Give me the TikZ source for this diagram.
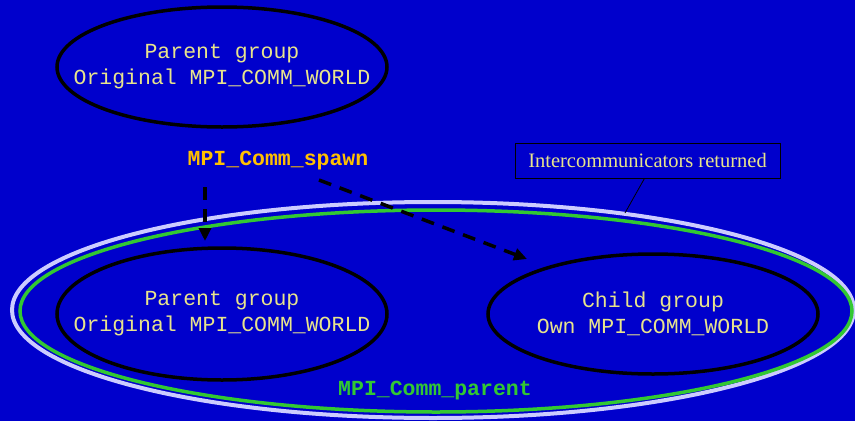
\documentclass[tikz,border=0pt]{standalone}
\usepackage{fontspec}
\setmonofont{Liberation Mono}
\setmainfont{Liberation Serif}
\usetikzlibrary{shapes.geometric,arrows.meta}
\definecolor{bg}{RGB}{0,0,204}
\definecolor{txt}{RGB}{232,228,140}
\definecolor{spawn}{RGB}{255,192,0}
\definecolor{grn}{RGB}{50,200,50}
\definecolor{lav}{RGB}{204,204,255}
\tikzset{
  grp/.style={ellipse,draw=black,line width=3.5pt,minimum width=330pt,minimum height=120pt,inner sep=0pt},
  grptext/.style={align=center,text=txt,font=\fontsize{21.5}{26}\ttfamily,inner sep=0pt},
  lbl/.style={font=\fontsize{21.5}{26}\ttfamily\bfseries,inner sep=0pt},
  dasharrow/.style={draw=black,line width=3.5pt,dash pattern=on 13pt off 9pt,
    -{Triangle[length=13pt,width=12pt]}},
}
\begin{document}
\begin{tikzpicture}[x=1pt,y=-1pt]
\fill[bg] (0,0) rectangle (855,421);
\useasboundingbox (0,0) rectangle (855,421);
% big communicator ellipses
\node[ellipse,draw=lav,line width=4pt,minimum width=842pt,minimum height=216pt,inner sep=0pt] (outer) at (433,310) {};
\node[ellipse,draw=grn,line width=3.5pt,minimum width=832pt,minimum height=202pt,inner sep=0pt] (inner) at (436,311) {};
% groups
\node[grp] (top) at (222,67) {};
\node[grptext] (toptext) at (top.center) {Parent group\\Original MPI\_COMM\_WORLD};
\node[grp,minimum height=132pt] (left) at (222,314) {};
\node[grptext] (lefttext) at (left.center) {Parent group\\Original MPI\_COMM\_WORLD};
\node[grp] (right) at (653,314) {};
\node[grptext] (righttext) at (right.center) {Child group\\Own MPI\_COMM\_WORLD};
% labels
\node[lbl,text=spawn] (spawn) at (278,161) {MPI\_Comm\_spawn};
\node[lbl,text=grn] (parent) at (435,391) {MPI\_Comm\_parent};
% callout
\node[draw=black,line width=0.8pt,text=txt,font=\fontsize{20.5}{22}\selectfont,inner sep=0pt,minimum width=265pt,minimum height=35pt] (call) at (647.5,160.5) {Intercommunicators returned};
\coordinate (ctip) at (625,213);
\coordinate (cfoot) at ([xshift=-3pt]call.south);
\draw[black,line width=0.8pt] (cfoot) -- (ctip);
% arrows
\coordinate (a1s) at (205,187);
\coordinate (a1e) at (205,241);
\coordinate (a2s) at (319,180);
\coordinate (a2e) at (527,259);
\draw[dasharrow] (a1s) -- (a1e);
\draw[dasharrow] (a2s) -- (a2e);
\end{tikzpicture}
\end{document}
